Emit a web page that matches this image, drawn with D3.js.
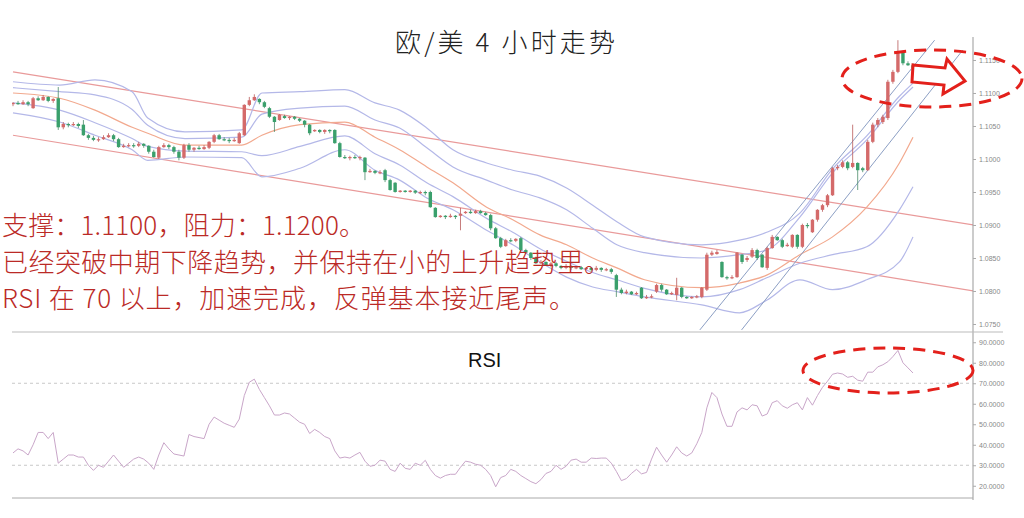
<!DOCTYPE html>
<html><head><meta charset="utf-8">
<script src="https://cdn.jsdelivr.net/npm/d3@7"></script>
<style>body{margin:0;background:#fff}svg{display:block}</style>
</head><body>
<svg id="c" width="1024" height="518"></svg>
<script>
const openP=[1.1083,1.1085,1.1083,1.1086,1.1077,1.1092,1.1089,1.1094,1.1088,1.1092,1.1048,1.1053,1.1052,1.1053,1.1052,1.1036,1.1032,1.1029,1.1030,1.1033,1.1036,1.1030,1.1018,1.1020,1.1021,1.1020,1.1023,1.1020,1.1011,1.1002,1.1018,1.1021,1.1018,1.1011,1.1002,1.1021,1.1014,1.1017,1.1015,1.1017,1.1026,1.1036,1.1030,1.1029,1.1027,1.1024,1.1036,1.1082,1.1089,1.1091,1.1086,1.1077,1.1064,1.1059,1.1065,1.1062,1.1064,1.1061,1.1058,1.1052,1.1042,1.1044,1.1041,1.1044,1.1044,1.1024,1.1003,1.1002,1.1003,1.1002,1.1002,1.0980,1.0982,1.0979,1.0983,1.0968,1.0964,1.0950,1.0952,1.0950,1.0952,1.0949,1.0950,1.0950,1.0926,1.0912,1.0914,1.0912,1.0914,1.0914,1.0918,1.0920,1.0918,1.0921,1.0918,1.0915,1.0895,1.0880,1.0868,1.0877,1.0876,1.0880,1.0862,1.0858,1.0850,1.0842,1.0844,1.0839,1.0842,1.0838,1.0835,1.0838,1.0835,1.0836,1.0833,1.0835,1.0832,1.0835,1.0832,1.0833,1.0824,1.0802,1.0797,1.0799,1.0795,1.0805,1.0789,1.0791,1.0799,1.0809,1.0802,1.0795,1.0794,1.0805,1.0791,1.0789,1.0791,1.0791,1.0802,1.0855,1.0856,1.0844,1.0821,1.0820,1.0821,1.0855,1.0847,1.0852,1.0862,1.0855,1.0835,1.0865,1.0882,1.0877,1.0868,1.0867,1.0885,1.0867,1.0900,1.0889,1.0908,1.0923,1.0930,1.0945,1.0986,1.0988,1.0995,1.0988,1.0994,1.0986,1.0983,1.1026,1.1052,1.1056,1.1062,1.1117,1.1132,1.1161,1.1145,1.1142];
const highP=[1.1086,1.1088,1.1089,1.1088,1.1094,1.1095,1.1097,1.1095,1.1092,1.1109,1.1056,1.1055,1.1056,1.1055,1.1059,1.1038,1.1035,1.1033,1.1036,1.1039,1.1038,1.1032,1.1023,1.1024,1.1024,1.1026,1.1024,1.1021,1.1014,1.1020,1.1024,1.1023,1.1020,1.1014,1.1023,1.1024,1.1018,1.1020,1.1021,1.1027,1.1038,1.1038,1.1033,1.1032,1.1032,1.1041,1.1083,1.1094,1.1098,1.1092,1.1088,1.1079,1.1065,1.1068,1.1067,1.1065,1.1065,1.1062,1.1059,1.1053,1.1045,1.1045,1.1045,1.1045,1.1045,1.1026,1.1006,1.1005,1.1006,1.1005,1.1003,1.0985,1.0983,1.0983,1.0985,1.0970,1.0965,1.0953,1.0953,1.0953,1.0953,1.0952,1.0952,1.0952,1.0927,1.0915,1.0915,1.0917,1.0915,1.0926,1.0921,1.0923,1.0923,1.0923,1.0920,1.0917,1.0897,1.0882,1.0879,1.0880,1.0880,1.0882,1.0864,1.0859,1.0852,1.0847,1.0845,1.0844,1.0844,1.0839,1.0841,1.0839,1.0838,1.0838,1.0836,1.0836,1.0838,1.0836,1.0835,1.0835,1.0826,1.0805,1.0802,1.0800,1.0799,1.0806,1.0794,1.0795,1.0811,1.0811,1.0803,1.0799,1.0820,1.0806,1.0792,1.0792,1.0794,1.0806,1.0858,1.0861,1.0862,1.0845,1.0823,1.0824,1.0859,1.0856,1.0853,1.0865,1.0864,1.0856,1.0867,1.0885,1.0883,1.0879,1.0873,1.0886,1.0886,1.0902,1.0903,1.0909,1.0924,1.0932,1.0947,1.0988,1.0991,1.0998,1.0997,1.1052,1.0995,1.0988,1.1029,1.1055,1.1062,1.1067,1.1120,1.1135,1.1180,1.1164,1.1148,1.1145];
const lowP=[1.1080,1.1082,1.1082,1.1080,1.1076,1.1088,1.1088,1.1086,1.1085,1.1044,1.1045,1.1048,1.1050,1.1047,1.1035,1.1029,1.1027,1.1026,1.1029,1.1032,1.1027,1.1017,1.1017,1.1018,1.1017,1.1018,1.1017,1.1008,1.1002,1.1000,1.1017,1.1015,1.1008,1.0998,1.1000,1.1011,1.1011,1.1014,1.1014,1.1015,1.1024,1.1029,1.1027,1.1024,1.1026,1.1023,1.1035,1.1080,1.1088,1.1083,1.1077,1.1062,1.1041,1.1058,1.1061,1.1059,1.1059,1.1056,1.1048,1.1036,1.1041,1.1039,1.1038,1.1039,1.1023,1.1002,1.1000,1.0998,1.1000,1.0998,1.0968,1.0979,1.0977,1.0977,1.0965,1.0952,1.0949,1.0949,1.0949,1.0949,1.0947,1.0947,1.0945,1.0926,1.0911,1.0911,1.0909,1.0911,1.0909,1.0892,1.0917,1.0917,1.0917,1.0917,1.0914,1.0892,1.0879,1.0865,1.0867,1.0874,1.0874,1.0859,1.0856,1.0847,1.0841,1.0841,1.0838,1.0836,1.0836,1.0833,1.0833,1.0832,1.0833,1.0832,1.0832,1.0830,1.0830,1.0829,1.0830,1.0826,1.0791,1.0795,1.0795,1.0794,1.0794,1.0788,1.0788,1.0789,1.0797,1.0799,1.0794,1.0794,1.0786,1.0789,1.0788,1.0788,1.0789,1.0789,1.0800,1.0853,1.0855,1.0820,1.0817,1.0818,1.0820,1.0841,1.0844,1.0850,1.0847,1.0835,1.0832,1.0864,1.0876,1.0865,1.0867,1.0865,1.0864,1.0865,1.0895,1.0888,1.0905,1.0920,1.0927,1.0944,1.0983,1.0986,1.0983,1.0986,1.0953,1.0980,1.0982,1.1024,1.1048,1.1053,1.1059,1.1114,1.1130,1.1142,1.1141,1.1135];
const closeP=[1.1085,1.1083,1.1086,1.1083,1.1092,1.1089,1.1094,1.1088,1.1091,1.1048,1.1053,1.1052,1.1053,1.1050,1.1036,1.1032,1.1029,1.1030,1.1033,1.1036,1.1030,1.1018,1.1020,1.1021,1.1020,1.1023,1.1020,1.1011,1.1003,1.1018,1.1021,1.1018,1.1011,1.1002,1.1021,1.1014,1.1017,1.1015,1.1018,1.1026,1.1036,1.1030,1.1029,1.1027,1.1029,1.1039,1.1082,1.1089,1.1094,1.1086,1.1079,1.1064,1.1056,1.1067,1.1062,1.1064,1.1061,1.1058,1.1052,1.1039,1.1044,1.1041,1.1044,1.1042,1.1024,1.1003,1.1002,1.1003,1.1002,1.1003,1.0980,1.0982,1.0979,1.0980,1.0968,1.0953,1.0950,1.0952,1.0950,1.0952,1.0949,1.0950,1.0949,1.0927,1.0912,1.0914,1.0912,1.0914,1.0912,1.0917,1.0920,1.0918,1.0921,1.0918,1.0915,1.0895,1.0880,1.0867,1.0877,1.0876,1.0879,1.0862,1.0858,1.0850,1.0842,1.0844,1.0839,1.0842,1.0838,1.0835,1.0838,1.0835,1.0836,1.0833,1.0835,1.0832,1.0835,1.0832,1.0833,1.0829,1.0802,1.0797,1.0799,1.0795,1.0797,1.0789,1.0791,1.0792,1.0809,1.0802,1.0795,1.0797,1.0805,1.0791,1.0789,1.0791,1.0792,1.0805,1.0855,1.0858,1.0859,1.0821,1.0820,1.0821,1.0858,1.0844,1.0850,1.0862,1.0850,1.0836,1.0865,1.0882,1.0877,1.0867,1.0870,1.0885,1.0867,1.0900,1.0899,1.0908,1.0923,1.0930,1.0945,1.0986,1.0988,1.0995,1.0986,1.0994,1.0983,1.0983,1.1026,1.1052,1.1059,1.1064,1.1117,1.1132,1.1161,1.1145,1.1142,1.1138];
const rsiValues=[36,38,37,35,40,46,46,43,46,31,33,35,35,34,34,30,27.5,30,29,32,35,32,29,31,33,34,33,31,28,35,41,38,35.5,35,34.5,45,44,43.5,43,50,53.5,52,50.5,49.5,48.5,52.5,64,70.5,72,67,63,59,54.5,54.5,55.5,55,53,51,50,45.5,47.5,46,44,43,37,33.5,34,33.5,35,36.3,32,29.5,30,32.5,32,28,27,31,28.5,28,31,30,32.4,28,25,23.7,25,25.6,25.6,29,32,31.5,30.5,30,28,25,19.5,24,25,28,27,25,23.5,22,21,23,26,27,30,28,29.5,32.5,33,31.5,31.5,33.5,33.3,33.5,33.5,31,27,22.5,23.5,26,28,25.8,26.5,33,38.8,35,31.5,35,39,36,34.5,36,40.5,46,58,65.5,63,55,49,49,56,58,57,59.5,59,54,55,60.5,61.5,59,57.8,59.5,60.5,57,63,59.3,64,68,71,74.4,75,74.5,72.9,73.4,71.5,71,75.4,75.4,78,79,80.5,83,86,80,77.5,75];
const bandIndex=[0,9.3,16.3,23.7,26.8,34.2,45.5,49.5,57.1,66,72,76.9,82.3,87.5,94.2,99.4,104.8,110.1,115.3,120.1,125.6,137,144.5,149.9,156.5,163,169.8,176.3,179];
const bandMid=[1.1100,1.1092,1.1074,1.1048,1.1039,1.1021,1.1021,1.1036,1.1052,1.1056,1.1033,1.1014,1.0988,1.0964,1.0927,1.0908,1.0885,1.0870,1.0850,1.0835,1.0817,1.0805,1.0812,1.0824,1.0855,1.0882,1.0927,1.0994,1.1033];
const bandUpper2=[1.1117,1.1112,1.1120,1.1102,1.1062,1.1041,1.1044,1.1100,1.1102,1.1105,1.1085,1.1074,1.1047,1.1014,1.0994,1.0983,1.0974,1.0956,1.0930,1.0905,1.0882,1.0870,1.0877,1.0889,1.0918,1.0985,1.1035,1.1095,1.1115];
const bandUpper1=[1.1108,1.1102,1.1097,1.1075,1.1051,1.1031,1.1033,1.1068,1.1077,1.1080,1.1059,1.1047,1.1017,1.0988,1.0968,1.0953,1.0941,1.0923,1.0895,1.0870,1.0858,1.0850,1.0855,1.0862,1.0912,1.0979,1.1029,1.1089,1.1109];
const bandLower1=[1.1085,1.1074,1.1055,1.1031,1.1019,1.1012,1.1011,1.1005,1.1019,1.1035,1.1008,1.0991,1.0964,1.0943,1.0910,1.0889,1.0864,1.0845,1.0828,1.0817,1.0804,1.0791,1.0802,1.0820,1.0842,1.0855,1.0867,1.0923,1.0958];
const bandLower2=[1.1070,1.1056,1.1036,1.1014,1.0998,1.1003,1.1002,1.0973,1.0986,1.1014,1.0983,1.0968,1.0941,1.0923,1.0892,1.0870,1.0844,1.0821,1.0806,1.0799,1.0791,1.0779,1.0767,1.0786,1.0817,1.0802,1.0817,1.0844,1.0882];
const channelUpper=[[0,1.1132],[191,1.0900]];
const channelLower=[[0,1.1036],[191,1.0800]];
const trendA=[[136.6,1.0741],[183.3,1.1180]];
const trendB=[[144.9,1.0741],[188.9,1.1165]];
const priceTicks=[1.1150,1.1100,1.1050,1.1000,1.0950,1.0900,1.0850,1.0800,1.0750];
const rsiTicks=[90,80,70,60,50,40,30,20];
const rsiLevels=[70,30];
const titleText="欧/美 4 小时走势";
const notes=["支撑：1.1100，阻力：1.1200。","已经突破中期下降趋势，并保持在小的上升趋势里。","RSI 在 70 以上，加速完成，反弹基本接近尾声。"];

const svg=d3.select("#c");
const x=d3.scaleLinear().domain([0,179]).range([13,913]);
const yP=d3.scaleLinear().domain([1.0740,1.1188]).range([330.6,34.9]);
const yR=d3.scaleLinear().domain([15,95]).range([496,332]);
const L=12,R=973;

svg.append("defs").append("clipPath").attr("id","pc").append("rect").attr("x",L).attr("y",35).attr("width",R-L).attr("height",297);
const gP=svg.append("g").attr("clip-path","url(#pc)");

const lineXY=d3.line().x(d=>x(d[0])).y(d=>yP(d[1]));
[channelUpper,channelLower].forEach(c=>gP.append("path").attr("d",lineXY(c)).attr("fill","none").attr("stroke","#e99a9a").attr("stroke-width",1.2));

const bandLine=d3.line().curve(d3.curveMonotoneX).x(d=>x(d[0])).y(d=>yP(d[1]));
const mk=arr=>bandIndex.map((b,i)=>[b,arr[i]]);
[[bandUpper2,"#b4b8e8"],[bandUpper1,"#b4b8e8"],[bandLower1,"#b4b8e8"],[bandLower2,"#b4b8e8"],[bandMid,"#f2a98e"]].forEach(([a,c])=>
  gP.append("path").attr("d",bandLine(mk(a))).attr("fill","none").attr("stroke",c).attr("stroke-width",1.2));
[trendA,trendB].forEach(c=>gP.append("path").attr("d",lineXY(c)).attr("fill","none").attr("stroke","#8c9fc4").attr("stroke-width",1));

const candles=openP.map((o,i)=>({i,o,h:highP[i],l:lowP[i],c:closeP[i]}));
const cg=gP.append("g");
cg.selectAll("line").data(candles).join("line")
  .attr("x1",d=>x(d.i)).attr("x2",d=>x(d.i)).attr("y1",d=>yP(d.h)).attr("y2",d=>yP(d.l))
  .attr("stroke",d=>d.c>=d.o?"#b85a5a":"#4a8a68").attr("stroke-width",0.8);
cg.selectAll("rect").data(candles).join("rect")
  .attr("x",d=>x(d.i)-1.7).attr("width",3.4)
  .attr("y",d=>yP(Math.max(d.o,d.c))).attr("height",d=>Math.max(1.2,Math.abs(yP(d.o)-yP(d.c))))
  .attr("fill",d=>d.c>=d.o?"#d46a6a":"#3aa06c");

svg.append("line").attr("x1",R).attr("x2",R).attr("y1",37).attr("y2",500).attr("stroke","#999");
svg.append("line").attr("x1",L).attr("x2",1003).attr("y1",332).attr("y2",332).attr("stroke","#bbb");
svg.append("line").attr("x1",L).attr("x2",R).attr("y1",498).attr("y2",498).attr("stroke","#aaa");

const aP=svg.append("g").attr("transform",`translate(${R},0)`).call(d3.axisRight(yP).tickValues(priceTicks).tickFormat(d3.format(".4f")).tickSize(3).tickPadding(3));
const aR=svg.append("g").attr("transform",`translate(${R},0)`).call(d3.axisRight(yR).tickValues(rsiTicks).tickFormat(d=>d.toFixed(4)).tickSize(3).tickPadding(3));
[aP,aR].forEach(a=>{a.select(".domain").remove();a.selectAll("line").attr("stroke","#aaa");a.selectAll("text").attr("fill","#888").style("font-size","7px").style("font-family","Liberation Sans, Arial");});

svg.selectAll(".lvl").data(rsiLevels).join("line").attr("class","lvl").attr("x1",L).attr("x2",R).attr("y1",d=>yR(d)).attr("y2",d=>yR(d)).attr("stroke","#c8c8c8").attr("stroke-dasharray","3,3");
svg.append("path").attr("d",d3.line().x((d,i)=>x(i)).y(d=>yR(d))(rsiValues)).attr("fill","none").attr("stroke","#c9a6c9").attr("stroke-width",1);
svg.append("text").attr("x",468).attr("y",367).text("RSI").attr("font-family","Liberation Sans, Arial").attr("font-size",20).attr("fill","#111");

svg.append("text").attr("x",395).attr("y",52).attr("textLength",220).attr("lengthAdjust","spacing").text(titleText).attr("font-family","Noto Sans CJK SC").attr("font-weight",300).attr("font-size",26).attr("fill","#222");
const ny=[235,272,308];
const nw=[363,608,573];
notes.forEach((t,i)=>svg.append("text").attr("x",2).attr("y",ny[i]).attr("textLength",nw[i]).attr("lengthAdjust","spacing").text(t).attr("font-family","Noto Sans CJK SC").attr("font-weight",300).attr("font-size",26).attr("fill","#bb2a26"));

const red="#e3201b";
svg.append("ellipse").attr("cx",932).attr("cy",78.5).attr("rx",90).attr("ry",28.5).attr("fill","none").attr("stroke",red).attr("stroke-width",3).attr("stroke-dasharray","12,8");
svg.append("ellipse").attr("cx",888).attr("cy",370.5).attr("rx",85).attr("ry",22.5).attr("fill","none").attr("stroke",red).attr("stroke-width",3).attr("stroke-dasharray","12,8");
svg.append("path").attr("d","M913,65 L945,68 L947,59 L965,81 L943,94 L944,85 L912,82 Z").attr("fill","#fff").attr("stroke",red).attr("stroke-width",3).attr("stroke-linejoin","miter");
</script>
</body></html>
